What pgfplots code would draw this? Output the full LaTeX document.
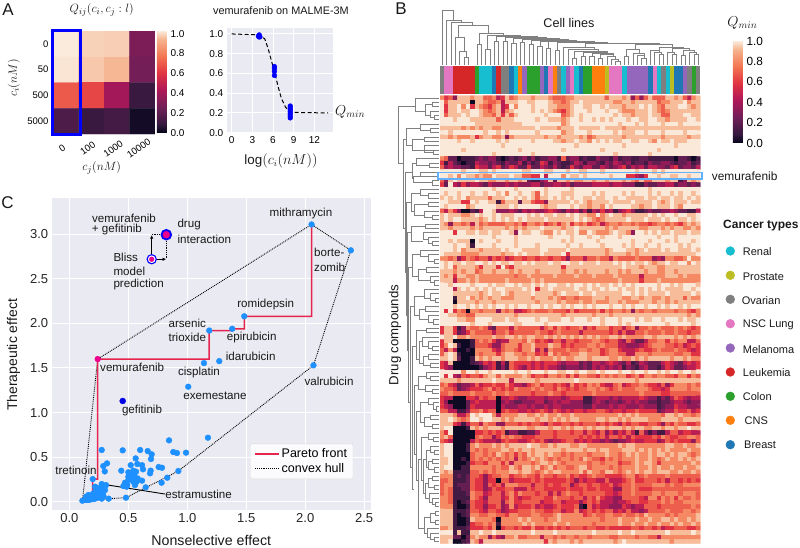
\documentclass[border=0pt]{standalone}
\usepackage{pgfplots}
\pgfplotsset{compat=1.18}
\usepackage{fontspec}
\setmainfont{Liberation Sans}
\usetikzlibrary{arrows.meta}
\newcommand{\fs}[1]{\fontsize{#1}{#1}\selectfont}
\definecolor{bgc}{HTML}{EAEAF2}
\definecolor{dodger}{HTML}{1E90FF}
\definecolor{pareto}{HTML}{E6254F}
\definecolor{cb}{HTML}{1F77B4}\definecolor{co}{HTML}{FF7F0E}\definecolor{cg}{HTML}{2CA02C}
\definecolor{cr}{HTML}{D62728}\definecolor{cp}{HTML}{9467BD}\definecolor{cy}{HTML}{7F7F7F}
\definecolor{ck}{HTML}{E377C2}\definecolor{cl}{HTML}{BCBD22}\definecolor{cc}{HTML}{17BECF}
\pgfplotsset{colormap={rocket}{rgb255(0cm)=(3,5,26) rgb255(1cm)=(53,25,62) rgb255(3cm)=(112,31,87) rgb255(5cm)=(173,23,89) rgb255(7cm)=(225,51,66) rgb255(9cm)=(243,118,81) rgb255(11cm)=(246,180,143) rgb255(12cm)=(250,235,221)}}
\pgfplotsset{cbstyle/.style={width=10pt,height=102pt,ytick={0,0.2,0.4,0.6,0.8,1},xtick=\empty,major tick length=0pt,axis line style={draw=none},
  yticklabel style={font=\fs{#1},xshift=0pt,/pgf/number format/fixed,/pgf/number format/fixed zerofill,/pgf/number format/precision=1,/pgf/number format/assume math mode=true}}}
\newcount\hmC \newcount\hmR \newtoks\hmA \newtoks\hmB
\def\hmval#1{\ifcase#1 .02\or.12\or.22\or.34\or.46\or.58\or.69\or.80\or.93\or.995\fi}
\def\hmpush#1{\edef\hmtmp{\the\hmB\the\hmC\space\the\hmR\space\hmval{#1}\noexpand\\ }\hmB=\expandafter{\hmtmp}\advance\hmC by 1\relax}
\def\hmcell#1{\ifx#1\relax\let\hmnext\hmfill\else\ifnum\hmC<60 \hmpush{#1}\fi\let\hmnext\hmcell\fi\hmnext}
\def\hmfill{\ifnum\hmC<60 \hmpush{9}\expandafter\hmfill\fi}
\def\hrow#1{\hmC=0 \hmB={}\hmcell#1\relax\edef\hmtmp{\the\hmA\the\hmB}\global\hmA=\expandafter{\hmtmp}\global\advance\hmR by 1\relax}
\hrow{7563888788 6674586788 8788876667 7888888868 8878363686 6688786478}
\hrow{9688888088 7667488899 8899987767 8898888888 7788788888 6778889788}
\hrow{9588979587 6578459799 9899988777 8998899898 8878889898 7688899878}
\hrow{9588988998 7678478999 9898987657 8999899989 9877788898 7678888888}
\hrow{9688898998 7768586899 9999899967 8989999999 8988788898 8668889988}
\hrow{9998999888 8886888999 9989988878 9989989898 9998998899 8878888998}
\hrow{9999999988 8888888889 9999999978 9999999999 9899989899 9899989999}
\hrow{8888878787 8877888888 8898888788 8988888988 8878888888 8888888888}
\hrow{9989999999 8998989999 9989999978 8999899999 8988899899 9899998999}
\hrow{8878777857 8877837888 8888788788 8878678888 8878888888 8788888788}
\hrow{9999899899 9998989999 9899998878 8988798989 8899889987 9889888999}
\hrow{9999999999 9999899999 9999999999 9899999999 9989999999 9999899999}
\hrow{9999989999 9999999989 9999999989 9999999899 9999999999 8999999999}
\hrow{9999999999 9989999999 9899999999 9999999999 8999999989 9999999999}
\hrow{7622011123 2331012123 1312233162 3312113221 3122112211 1111022101}
\hrow{5142101143 3232132241 3125413211 2431332132 4323122132 2332122312}
\hrow{6343322154 4245235422 5224324212 5324422432 3452434244 3324523324}
\hrow{9999989998 8989999998 8999889998 9988999899 9999989998 9899999999}
\hrow{9989798878 7798889886 6559499979 8898999998 9995543599 8998899899}
\hrow{6389888898 8778878878 2113482887 8778878878 8878768668 8878813878}
\hrow{5294353443 2433343433 3442334434 2333344443 4433311322 3344233232}
\hrow{9999999999 9989999899 9999899999 8999999999 9999999989 9999999999}
\hrow{9899899899 8998979989 9869899988 8999989899 9989899989 8998989989}
\hrow{8989897888 8688899898 9868898989 8998898899 8998888988 9889889898}
\hrow{9988855989 9881688828 8655388888 9898788889 8888988889 8789888988}
\hrow{9899997899 9998889899 9998788999 8988788798 9999887889 8889879999}
\hrow{6475300214 9983334324 3433454324 3424143534 1345311232 2334322114}
\hrow{8988877898 9989888999 8989889889 8988779789 8878888898 9899899889}
\hrow{8989988887 8989898989 8888988888 8989876788 8889888988 8989988989}
\hrow{8737767486 7666677675 7767567578 5767567467 7677676656 7767657878}
\hrow{8878888787 8888878787 8889888878 8988888878 7888887788 8787887787}
\hrow{9995998898 8988998398 8998779898 8977987778 9887399898 9889888988}
\hrow{9999999999 9989999899 9999989999 8999899899 9899999999 8999899999}
\hrow{9989888098 9998999899 9999999989 8999998999 9999899989 9989899989}
\hrow{9998998199 9989999899 9989999998 9989999899 9989899899 8999989899}
\hrow{9998978887 8888989998 8889988889 8888888878 9998878988 8989988898}
\hrow{9888877778 8888788989 8889888895 8888888878 8887878888 8888888889}
\hrow{7767357656 6465645665 6656656653 6664667664 7666676663 4377667977}
\hrow{9898898899 8989889889 8988898899 8898889888 9898988987 8898899798}
\hrow{9896888875 8885965888 8888888858 8888888888 8898887888 7788888888}
\hrow{8887878867 8878887878 8878888878 8787888878 8787888788 7788788888}
\hrow{8785887787 7777777677 8777778777 7877787777 8777774777 7788878777}
\hrow{8884778787 7777787777 7878777777 7777777777 7877775777 8777777777}
\hrow{9989999899 9898899898 8989899889 8998989889 8989899999 8998989998}
\hrow{9994898989 8989988889 8958898888 8988988989 9898898989 8988889989}
\hrow{9998888887 8988987888 8988887898 8898898888 8899898988 8898888898}
\hrow{9991889787 8788777888 8788878767 7677788878 8877887887 7878886877}
\hrow{9990888878 8878888888 8878888787 7787787778 8787778887 8878788888}
\hrow{9998998989 8989989899 8998989989 8998989998 9989899899 8989989899}
\hrow{9595760776 7773767445 6766676665 7566667576 7767376776 7777677657}
\hrow{9988776688 8888888788 8888888878 8888878887 8888888888 8888888787}
\hrow{9999887799 9988898899 9989988899 8999899899 9899989889 9899989889}
\hrow{9999999899 9899999889 9999899999 9999999899 9898999999 9989999989}
\hrow{5885137667 6326664766 6664675765 6674657775 6646736676 7666767656}
\hrow{5885235766 6646675666 6676656766 6646666665 6464466766 6766766566}
\hrow{9889778777 7787788787 8877878787 8787878778 8787777887 8888787878}
\hrow{5880000167 6753447776 8756546646 6566677656 6436422466 7757677446}
\hrow{5798100166 6533677757 7866687756 5666776766 6443334567 7766564565}
\hrow{6474001077 7754677657 7846376667 6677677567 7544456556 7666766545}
\hrow{6898100076 7775788776 7756586766 7788777567 7664477767 7777667755}
\hrow{8898200187 8788788877 8787778787 7888788887 7877878788 8887887877}
\hrow{5480000123 5451416555 5454555434 4423244345 4324124322 2454324545}
\hrow{5430000001 3451316543 5454544323 3323243434 3413213422 1354223445}
\hrow{9999979989 9899999899 8999899889 9899889899 9899899899 8989989989}
\hrow{9594365665 7886877778 7566577675 7577665767 6775675776 7766577576}
\hrow{8888788888 8898884888 8878888888 8988888888 8888878888 8888888888}
\hrow{6754233464 5565575443 5675665654 7565767544 6745667655 4635777676}
\hrow{7665234555 6756565766 6767665765 6566776765 6766677765 5457777677}
\hrow{6676666766 6676676666 6566676656 6666676666 6666667666 6556666666}
\hrow{5440005546 5660445433 4444344434 5551134443 4344445433 1324654344}
\hrow{5300002454 4440343223 3344234344 3331134323 3234343322 1223443233}
\hrow{5430002544 4440433344 3433434433 3332243334 3443334333 1233544333}
\hrow{6644113667 5660565544 5456546545 4554556654 5545565555 2344655645}
\hrow{8887446989 9974777788 7787877877 8777777777 7878787777 7688787767}
\hrow{8898767998 9988787888 8878878787 8877778878 8787888877 7888878888}
\hrow{8885414664 7663366656 5665465566 5656665656 5465665566 5365766556}
\hrow{8990001878 7888788888 7788878878 7887878878 8878788778 8788788988}
\hrow{7590000055 6565613311 2246665666 5664654635 3546416313 1146645544}
\hrow{7860000067 6635767665 5566665666 6656565646 6564655556 5765566776}
\hrow{6540000465 4443565544 5656434456 6454544343 2334544555 3465655536}
\hrow{8990001787 7787878888 9887787888 7788777777 7878877777 7788778778}
\hrow{8990001767 6777887878 8788888878 8887887887 7788878787 8787777877}
\hrow{8990000677 6768767576 8788787767 6777677787 7678787787 8878788767}
\hrow{8890010676 7676767476 7878767677 6768766576 7677787787 6787787878}
\hrow{8890001566 5777574777 7678878767 7777677677 7566787887 5777777787}
\hrow{8990011777 7767668768 8786786776 6788677776 7677787787 8778778778}
\hrow{8781111667 6767778878 8767878877 7786877688 7678787887 8887787787}
\hrow{7771212665 3566775667 6657665667 5655676655 5567756766 6676666666}
\hrow{6671112655 3550664555 5656555556 5354554464 4456755666 5646656565}
\hrow{6771222655 3656477766 6466565566 3566566556 4566766667 7767667777}
\hrow{6761122655 3465566444 6566555556 5556556555 3366765556 6666666666}
\hrow{6761112766 4566467576 6656646467 6656666655 4566766667 7677767776}
\hrow{7761111765 3666457545 5666557666 5664657544 3366665477 5767576676}
\hrow{7761012655 4666367556 6664556645 5535656444 3445665566 6767667777}
\hrow{7771001655 3556347455 5645445655 5610645443 3354344666 5666666676}
\hrow{8881112665 4665345566 6766556645 5745656566 4546443466 6676667767}
\hrow{8881012776 6776657766 6776667877 7775676677 6676676877 7767677778}
\hrow{8881001877 7760777787 8777677877 7777777677 7877787787 7887877878}
\hrow{8881001566 7671777778 7877778778 7777767777 7877877877 8778787787}
\hrow{7781112555 6570566565 5755656565 6665665565 5555665665 6455666556}
\hrow{9991811889 8898888888 8988889888 8888898888 8988988888 8898888898}
\hrow{8882202787 7364377866 7774776767 7677677776 6777767766 4777777777}
\hrow{8890012874 8888888888 8888587888 7878888888 7898888888 8887888888}
\xdef\heatplot{\noexpand\addplot[matrix plot*,mesh/cols=60,point meta=explicit] table[row sep=\noexpand\\,x=x,y=y,meta=v]{x y v\noexpand\\ \the\hmA};}
\newcommand{\seg}[3]{\addplot[fill=#1,draw=none,forget plot] coordinates {(#2,0)(#3,0)(#3,1)(#2,1)} --cycle;}
\newcommand{\DU}[5]{\addplot[dg,forget plot] coordinates {(#1,#2)(#1,#5)(#3,#5)(#3,#4)};}
\newcommand{\DV}[5]{\addplot[dg,forget plot] coordinates {(#2,#1)(#5,#1)(#5,#3)(#4,#3)};}
\pgfplotsset{dg/.style={color=black!50,line width=0.55pt,no marks},
 dark/.style={axis background/.style={fill=bgc},grid=major,grid style={white,line width=1pt},axis line style={draw=none},major tick length=0pt,
  tick label style={/pgf/number format/assume math mode=true},scale only axis,enlargelimits=false}}
\begin{document}
\begin{tikzpicture}
\path[use as bounding box] (0pt,0pt) rectangle (800pt,547pt);
% ---- A heat map
\begin{axis}[at={(53pt,413pt)},anchor=south west,scale only axis,width=102pt,height=103pt,
 xmin=-0.5,xmax=3.5,ymin=-0.5,ymax=3.5,y dir=reverse,axis line style={draw=none},major tick length=0pt,
 xtick={0,1,2,3},xticklabels={0,100,1000,10000},ytick={0,1,2,3},yticklabels={0,50,500,5000},
 tick label style={font=\fs{9.5}},x tick label style={rotate=35,anchor=center,xshift=-11.2pt,yshift=-9.9pt},
 y tick label style={xshift=-1pt},
 colormap name=rocket,point meta min=0,point meta max=1.03,colorbar,
 colorbar style={cbstyle=10,at={(1.0196,0.012)},anchor=south west,height=102pt}]
\addplot[matrix plot*,mesh/cols=4,point meta=explicit] table[meta=v]{
x y v
0 0 1.03
1 0 0.99
2 0 0.985
3 0 0.29
0 1 1.02
1 1 0.975
2 1 0.95
3 1 0.27
0 2 0.70
1 2 0.65
2 2 0.40
3 2 0.10
0 3 0.16
1 3 0.10
2 3 0.13
3 3 0.03
};
\end{axis}
% ---- A dose curve
\begin{axis}[dark,at={(226.7pt,414pt)},anchor=south west,width=106.3pt,height=105pt,
 xmin=-0.72,xmax=14.7,ymin=-0.003,ymax=1.06,xtick={0,3,6,9,12},ytick={0,0.2,0.4,0.6,0.8,1},
 tick label style={font=\fs{10},/pgf/number format/fixed,/pgf/number format/fixed zerofill=false},
 yticklabel style={/pgf/number format/fixed zerofill,/pgf/number format/precision=1},
 xticklabel style={/pgf/number format/precision=0}]
\addplot[black,line width=1pt,dash pattern=on 4pt off 2.5pt] coordinates {(0,1)(4,0.99)(4.8,0.95)(5.3,0.85)(5.8,0.72)(6.2,0.62)(6.8,0.45)(7.2,0.35)(7.8,0.26)(8.5,0.21)(9.5,0.205)(14,0.2)};
\addplot[only marks,mark=*,color=blue,mark size=2.4pt] coordinates {(3.9,0.98)(4.0,0.99)(4.1,0.97)(3.95,0.97)(6.2,0.58)(6.2,0.62)(6.2,0.65)(6.2,0.67)(8.5,0.15)(8.5,0.17)(8.5,0.19)(8.5,0.21)(8.5,0.23)(8.5,0.25)(8.5,0.27)};
\end{axis}
% ---- C scatter
\begin{axis}[dark,at={(51.7pt,37pt)},anchor=south west,width=319.3pt,height=312pt,
 xmin=-0.15,xmax=2.558,ymin=-0.093,ymax=3.407,xtick={0,0.5,1,1.5,2,2.5},ytick={0,0.5,1,1.5,2,2.5,3},
 tick label style={font=\fs{13},color=black!85,/pgf/number format/fixed,/pgf/number format/fixed zerofill,/pgf/number format/precision=1},
 legend style={at={(0.621,0.099)},anchor=south west,font=\fs{12.5},rounded corners=2pt,draw=black!15,fill=white,fill opacity=0.85,text opacity=1,inner ysep=3pt,inner xsep=4pt},
 legend cell align=left,legend image code/.code={\draw[#1] (0pt,0pt)--(24pt,0pt);}]
\addplot[only marks,mark=*,color=dodger,mark size=2.9pt,forget plot] table {
1.175 .718
.845 .688
.274 .58
.452 .576
.6 .58
.664 .568
.698 .531
.692 .479
.881 .557
.912 .546
.989 .55
.562 .486
.319 .43
.288 .40
.3 .34
.44 .348
.52 .41
.576 .423
.616 .41
.624 .363
.542 .348
.565 .337
.52 .318
.689 .348
.684 .318
.757 .389
.785 .381
.924 .344
.83 .269
.782 .213
.647 .161
.616 .236
.556 .273
.528 .262
.5 .243
.472 .213
.458 .176
.486 .168
.556 .187
.542 .224
.57 .224
.48 .045
.333 .034
.274 .198
.31 .187
.302 .131
.246 .15
.218 .112
.26 .093
.232 .056
.198 .254
.274 .034
.161 .075
.175 .037
.133 .019
.11 .011
.141 .056
.2 .056
.25 .056
.288 .112
.218 .168
.15 .02
.17 .02
.19 .03
.21 .03
.23 .04
.255 .08
.27 .07
.29 .16
.3 .17
.245 .11
.2 .09
.16 .05
.26 .13
.29 .06
.49 .19
.5 .28
.53 .3
.58 .26
.5 .33
.55 .31
2.054 3.11
2.387 2.82
1.483 2.08
1.381 1.94
1.186 1.92
1.271 1.577
1.141 1.555
2.07 1.53
1.008 1.29
};
\addplot[only marks,mark=*,color=black!10!blue,mark size=3pt,forget plot] coordinates {(.452,1.13)};
\addplot[black,densely dotted,line width=0.9pt,forget plot] coordinates {(.11,0)(.24,1.6)(2.054,3.11)(2.387,2.82)(2.07,1.53)(.924,.344)(.48,.045)(.333,.034)(.11,0)};
\addplot[color=pareto,line width=1.5pt] coordinates {(.11,.011)(.11,.03)(.155,.05)(.16,.08)(.198,.08)(.198,.254)(.24,.254)(.24,1.6)(1.186,1.6)(1.186,1.92)(1.381,1.92)(1.381,1.94)(1.483,1.94)(1.483,2.08)(2.054,2.08)(2.054,3.11)};
\addlegendentry{Pareto front}
\addplot[black,densely dotted,line width=0.9pt] coordinates {(-9,-9)};
\addlegendentry{convex hull}
\addplot[only marks,mark=*,color=magenta,mark size=2.9pt,forget plot] coordinates {(.24,1.6)};
\draw[black,line width=0.8pt,-{Latex[length=3.5pt,width=3.5pt]}] (axis cs:.698,2.72)--(axis cs:.698,2.99);
\draw[black,line width=0.8pt,-{Latex[length=3.5pt,width=3.5pt]}] (axis cs:.698,2.72)--(axis cs:.82,2.72);
\draw[black,densely dotted,line width=0.8pt] (axis cs:.698,3.0)--(axis cs:.822,3.0)--(axis cs:.822,2.72);
\addplot[only marks,mark=*,mark options={draw=blue,fill=white,line width=1.1pt},mark size=4.6pt,forget plot] coordinates {(.698,2.72)};
\addplot[only marks,mark=*,color=magenta,mark size=2.4pt,forget plot] coordinates {(.698,2.72)};
\addplot[only marks,mark=*,mark options={draw=blue,fill=magenta,line width=1.8pt},mark size=4.8pt,forget plot] coordinates {(.822,2.995)};
\draw[black,line width=0.9pt,-{Latex[length=5pt,width=4.5pt]}] (axis cs:.811,.086)--(axis cs:.274,.198);
\end{axis}
% ---- B colour strip
\begin{axis}[at={(440pt,452.7pt)},anchor=south west,scale only axis,width=260.3pt,height=28.3pt,xmin=0,xmax=60,ymin=0,ymax=1,hide axis]
\seg{cy}{0}{1}\seg{ck}{1}{3}\seg{cr}{3}{8}\seg{cg}{8}{9}\seg{cc}{9}{12}\seg{cb}{12}{13}\seg{cr}{13}{14}\seg{cy}{14}{16}
\seg{cb}{16}{17}\seg{cc}{17}{18}\seg{co}{18}{19}\seg{cp}{19}{20}\seg{cg}{20}{23}\seg{cp}{23}{24}\seg{cb}{24}{25}\seg{ck}{25}{26}
\seg{co}{26}{27}\seg{cy}{27}{28}\seg{cc}{28}{29}\seg{cp}{29}{30}\seg{ck}{30}{31}\seg{cc}{31}{32}\seg{cb}{32}{33}\seg{cg}{33}{35}
\seg{co}{35}{38}\seg{cl}{38}{39}\seg{ck}{39}{42}\seg{cc}{42}{43}\seg{cp}{43}{48}\seg{cb}{48}{49}\seg{ck}{49}{50}\seg{cc}{50}{51}
\seg{cy}{51}{52}\seg{cc}{52}{53}\seg{cl}{53}{54}\seg{cb}{54}{56}\seg{cp}{56}{57}\seg{cy}{57}{58}\seg{cg}{58}{59}\seg{cy}{59}{60}
\end{axis}
% ---- B heat map
\begin{axis}[at={(440pt,3.3pt)},anchor=south west,scale only axis,width=260.3pt,height=448pt,
 xmin=-0.5,xmax=59.5,ymin=-0.5,ymax=102.5,y dir=reverse,axis line style={draw=none},xtick=\empty,ytick=\empty,
 colormap name=rocket,point meta min=0,point meta max=1,colorbar,
 colorbar style={cbstyle=11.8,at={(1.1256,0.8945)},anchor=south west}]
\heatplot
\end{axis}
% ---- top dendrogram
\begin{axis}[at={(440pt,482pt)},anchor=south west,scale only axis,width=260.3pt,height=55pt,xmin=-0.5,xmax=59.5,ymin=10,ymax=65,y dir=reverse,hide axis,clip=false]
\DU{0}{65}{2.5}{20}{10.5}\DU{1}{65}{4.5}{22}{20}\DU{2}{65}{7}{25}{22}\DU{3.65}{37}{10.56}{33}{25}\DU{3}{65}{5}{51}{37}\DU{4}{65}{5.5}{57}{51}\DU{5}{65}{6}{65}{57}
\DU{8.5}{44}{14}{35}{33}\DU{8}{65}{9}{65}{44}\DU{10.5}{49}{18}{36.5}{35}\DU{10}{65}{11}{65}{49}
\DU{12.5}{41}{22}{37.5}{36.5}\DU{12}{65}{13}{65}{41}\DU{14.5}{41}{24}{38}{37.5}\DU{14}{65}{15}{65}{41}\DU{16.5}{43}{27}{39}{38}\DU{16}{65}{17}{65}{43}
\DU{18.5}{42}{29}{40}{39}\DU{18}{65}{19}{65}{42}\DU{20.5}{44}{31}{41}{40}\DU{20}{65}{21}{65}{44}\DU{22.5}{46}{33}{41.5}{41}\DU{22}{65}{23}{65}{46}
\DU{24.5}{48}{35}{42}{41.5}\DU{24}{65}{25}{65}{48}\DU{26.5}{50}{38}{43}{42}\DU{26}{65}{27}{65}{50}\DU{33}{47}{50}{44.5}{43}
\DU{28}{65}{35}{49}{47}\DU{29}{65}{36}{51}{49}\DU{30.5}{58}{38}{52}{51}\DU{30}{65}{31}{65}{58}\DU{32.5}{56}{38}{53}{52}\DU{32}{65}{33}{65}{56}
\DU{34.5}{56}{39.5}{54}{53}\DU{34}{65}{35}{65}{56}\DU{36.5}{58}{39.5}{56}{54}\DU{36}{65}{37}{65}{58}\DU{38}{65}{40}{59}{56}\DU{39}{65}{40.5}{61}{59}\DU{40}{65}{41}{65}{61}
\DU{44.5}{49}{53}{47}{44.5}\DU{42.5}{56}{45.5}{53}{49}\DU{42}{65}{43}{65}{56}\DU{44}{65}{46.5}{55}{53}\DU{45}{65}{46.5}{58}{55}\DU{46}{65}{47}{65}{58}
\DU{50}{50}{55.5}{48.5}{47}\DU{48}{65}{50}{52}{50}\DU{49}{65}{50.5}{54}{52}\DU{50}{65}{51}{65}{54}
\DU{53}{52}{57}{50}{48.5}\DU{52}{65}{53.5}{54}{52}\DU{53}{65}{54}{65}{54}\DU{55.5}{55}{58}{52}{50}\DU{55}{65}{56}{65}{55}\DU{57}{65}{58.5}{54}{52}\DU{58}{65}{59}{65}{54}
\end{axis}
% ---- left dendrogram
\begin{axis}[at={(397pt,3.3pt)},anchor=south west,scale only axis,width=42pt,height=448pt,xmin=397,xmax=439,ymin=-0.5,ymax=102.5,y dir=reverse,hide axis,clip=false]
\DV{2}{415}{15}{403}{398}\DV{0}{439}{3}{425}{415}\DV{1.5}{432}{4}{430}{425}\DV{1}{439}{2}{439}{432}\DV{3}{439}{4.5}{434}{430}\DV{4}{439}{5}{439}{434}
\DV{9.5}{406}{30}{405}{403}\DV{7}{420}{11}{412}{406}\DV{6}{439}{7.5}{430}{420}\DV{7}{439}{8}{439}{430}\DV{9.5}{424}{12}{433}{412}\DV{9}{439}{10}{439}{424}\DV{11}{439}{12.5}{433}{424}\DV{12}{439}{13}{439}{433}
\DV{17}{412}{40}{406}{405}\DV{15}{416}{18.5}{413}{412}\DV{14}{439}{15.5}{429}{416}\DV{15}{439}{16}{439}{429}\DV{18}{420}{19.5}{432}{413}\DV{17}{439}{18}{439}{420}\DV{19}{439}{20}{439}{432}
\DV{24}{411}{50}{407}{406}\DV{22}{420}{26}{414}{411}\DV{21}{439}{22.5}{428}{420}\DV{22}{439}{23}{439}{428}\DV{24.5}{428}{27}{424}{414}\DV{24}{439}{25}{439}{428}\DV{26}{439}{27.5}{432}{424}\DV{27}{439}{28}{439}{432}
\DV{31}{411}{58}{408}{407}\DV{29.5}{425}{33}{423}{411}\DV{29}{439}{30}{439}{425}\DV{31}{439}{32.5}{428}{423}\DV{32}{439}{33.5}{432}{428}\DV{33}{439}{34}{439}{432}
\DV{39}{412}{70}{410}{408}\DV{36}{420}{41}{418}{412}\DV{35}{439}{36.5}{428}{420}\DV{36}{439}{37.5}{434}{428}\DV{37}{439}{38}{439}{434}\DV{39.5}{426}{42}{430}{418}\DV{39}{439}{40}{439}{426}\DV{41}{439}{42.5}{434}{430}\DV{42}{439}{43}{439}{434}
\DV{48}{414}{85}{412}{410}\DV{45.5}{424}{50}{419}{414}\DV{44}{439}{46}{430}{424}\DV{45}{439}{46.5}{435}{430}\DV{46}{439}{47}{439}{435}\DV{48.5}{425}{51}{428}{419}\DV{48}{439}{49}{439}{425}\DV{50}{439}{51.5}{433}{428}\DV{51}{439}{52}{439}{433}
\DV{57}{416}{90}{414}{412}\DV{53.5}{426}{60}{419}{416}\DV{53}{439}{54}{439}{426}\DV{56}{422}{61}{423}{419}\DV{55}{439}{57}{428}{422}\DV{56}{439}{57.5}{432}{428}\DV{57}{439}{58}{439}{432}\DV{59.5}{428}{61.5}{430}{423}\DV{59}{439}{60}{439}{428}\DV{61}{439}{62}{439}{430}
\DV{66}{418}{82}{416}{414}\DV{64}{426}{67}{425}{418}\DV{63}{439}{64.5}{430}{426}\DV{64}{439}{65}{439}{430}\DV{66}{439}{67.5}{432}{425}\DV{67}{439}{68}{439}{432}
\DV{72}{420}{88}{418}{416}\DV{70}{428}{74.5}{424}{420}\DV{69}{439}{70.5}{433}{428}\DV{70}{439}{71.5}{436}{433}\DV{71}{439}{72}{439}{436}\DV{73.5}{430}{75.5}{432}{424}\DV{73}{439}{74}{439}{430}\DV{75}{439}{76}{439}{432}
\DV{83}{421}{99}{424}{418}\DV{78}{428}{88}{423}{421}\DV{77}{439}{78.5}{433}{428}\DV{78}{439}{79}{439}{433}\DV{83}{426}{91}{425}{423}\DV{81}{430}{85}{428}{426}\DV{80}{439}{81.5}{434}{430}\DV{81}{439}{82}{439}{434}\DV{83.5}{432}{85.5}{434}{428}\DV{83}{439}{84}{439}{432}\DV{85}{439}{86}{439}{434}
\DV{88.5}{428}{92}{429}{425}\DV{87.5}{432}{89.5}{434}{428}\DV{87}{439}{88}{439}{432}\DV{89}{439}{90}{439}{434}\DV{91}{439}{93}{432}{429}\DV{92}{439}{93.5}{435}{432}\DV{93}{439}{94}{439}{435}
\DV{96.5}{430}{100}{427}{424}\DV{95.5}{435}{97.5}{435}{430}\DV{95}{439}{96}{439}{435}\DV{97}{439}{98}{439}{435}\DV{99}{439}{101}{430}{427}\DV{100}{439}{101.5}{434}{430}\DV{101}{439}{102}{439}{434}
\end{axis}
% ---- cancer type dots
\begin{axis}[at={(0pt,0pt)},anchor=south west,scale only axis,width=800pt,height=547pt,xmin=0,xmax=800,ymin=0,ymax=547,y dir=reverse,hide axis]
\pgfplotsset{every axis plot/.append style={only marks,mark=*,mark size=4.4pt}}
\addplot[color=cc] coordinates {(730.3,251)};
\addplot[color=cl] coordinates {(730.3,275.3)};
\addplot[color=cy] coordinates {(730.3,299.3)};
\addplot[color=ck] coordinates {(730.3,323.7)};
\addplot[color=cp] coordinates {(730.3,348)};
\addplot[color=cr] coordinates {(730.3,372)};
\addplot[color=cg] coordinates {(730.3,396.3)};
\addplot[color=co] coordinates {(730.3,420.3)};
\addplot[color=cb] coordinates {(730.3,444.7)};
\end{axis}
% ---- text and frames, in reference pixels
\begin{scope}[shift={(0pt,547pt)},x=1pt,y=-1pt]
\draw[color=blue,line width=2.4pt] (52.5,30.5) rectangle (80.5,134.5);
\draw[color=dodger!70!white,line width=1.7pt] (438,172.5) rectangle (702.3,179);
\tikzset{t/.style={inner sep=0pt,text=black!90},l/.style={t,anchor=west}}
\node[t,font=\fs{17}] at (8,10) {A};
\node[t,font=\fs{17}] at (401,8.5) {B};
\node[t,font=\fs{17}] at (7.5,203) {C};
\node[t,font=\fs{13}] at (101.7,10) {$Q_{ij}(c_i,c_j:l)$};
\node[t,font=\fs{10.9}] at (281,11) {vemurafenib on MALME-3M};
\node[t,font=\fs{13},rotate=90] at (14,78) {$c_i(nM)$};
\node[t,font=\fs{13}] at (101.7,167.7) {$c_j(nM)$};
\node[t,font=\fs{13.4}] at (281,161) {$\log(c_i(nM))$};
\node[l,font=\fs{14}] at (335,112) {$Q_{min}$};
\node[t,font=\fs{12.6}] at (569,22.7) {Cell lines};
\node[t,font=\fs{14}] at (742.3,23.3) {$Q_{min}$};
\node[l,font=\fs{11.9}] at (711.7,176.7) {vemurafenib};
\node[t,font=\fs{13.2},rotate=90] at (395,335) {Drug compounds};
\node[l,font=\bfseries\fs{12}] at (723,225.7) {Cancer types};
\foreach \n/\y/\xx in {Renal/252/742.7,Prostate/276.5/742.7,Ovarian/301/741.7,NSC Lung/325/742.7,Melanoma/349.5/742.7,Leukemia/373/742.7,Colon/396.5/742.7,CNS/421/744.5,Breast/444.5/744}
  \node[l,font=\fs{11}] at (\xx,\y) {\n};
\node[t,font=\fs{14},rotate=90] at (13.5,355) {Therapeutic effect};
\node[t,font=\fs{14.2}] at (211.3,540) {Nonselective effect};
\tikzset{c/.style={t,font=\fs{11.6}},cl/.style={l,font=\fs{11.6}}}
\node[c] at (301,213.3) {mithramycin};
\node[cl] at (314,252.7) {borte-};
\node[cl] at (314,267.3) {zomib};
\node[c] at (265.7,304.3) {romidepsin};
\node[c] at (187.3,323.3) {arsenic};
\node[c] at (187.3,337) {trioxide};
\node[c] at (251.7,337.7) {epirubicin};
\node[c] at (250.7,356) {idarubicin};
\node[cl] at (100,367.3) {vemurafenib};
\node[c] at (199,372.7) {cisplatin};
\node[c] at (215,396) {exemestane};
\node[c] at (142,410) {gefitinib};
\node[c] at (329,381.7) {valrubicin};
\node[c] at (76,470.7) {tretinoin};
\node[c] at (198.7,494) {estramustine};
\node[c] at (124,218.3) {vemurafenib};
\node[cl] at (91.7,230) {+ gefitinib};
\node[cl] at (177.3,225) {drug};
\node[cl] at (177.3,239) {interaction};
\node[cl] at (113.3,257.3) {Bliss};
\node[cl] at (113.3,271.3) {model};
\node[cl] at (113.3,285) {prediction};
\end{scope}
\end{tikzpicture}
\end{document}
